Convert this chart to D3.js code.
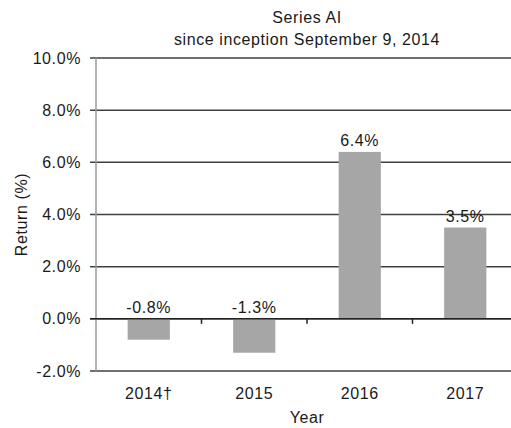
<!DOCTYPE html>
<html>
<head>
<meta charset="utf-8">
<title>Series AI returns</title>
<script src="https://d3js.org/d3.v7.min.js"></script>
<style>
  body { margin: 0; background: #fff; }
  text { font-family: Arial, "Liberation Sans", sans-serif; fill: #1a1a1a; font-size: 16px; letter-spacing: 0.6px; }
</style>
</head>
<body>
<svg id="chart" width="511" height="428"></svg>
<script>
const years = ['2014\u2020', '2015', '2016', '2017'];
const returns = [-0.8, -1.3, 6.4, 3.5];
const yTicks = [-2, 0, 2, 4, 6, 8, 10];

const plotL = 96, plotR = 518, plotT = 58, plotB = 371;

const svg = d3.select('#chart');

const x = d3.scaleBand().domain(years).range([plotL, plotR]).paddingInner(0.6).paddingOuter(0.3);
const xb = d3.scaleBand().domain(years).range([plotL, plotR]);  // full bands for tick marks
const y = d3.scaleLinear().domain([-2, 10]).range([plotB, plotT]);

// gridlines
svg.selectAll('line.grid').data(yTicks).enter().append('line')
  .attr('class', 'grid')
  .attr('x1', plotL - 6).attr('x2', 511)
  .attr('y1', d => y(d)).attr('y2', d => y(d))
  .attr('stroke', '#404040').attr('stroke-width', 1.5);

// left axis line
svg.append('line')
  .attr('x1', plotL).attr('x2', plotL)
  .attr('y1', plotT).attr('y2', plotB)
  .attr('stroke', '#9a9a9a').attr('stroke-width', 1.5);

// y tick labels
svg.selectAll('text.ytick').data(yTicks).enter().append('text')
  .attr('class', 'ytick')
  .attr('x', plotL - 15).attr('y', d => y(d))
  .attr('dy', '0.35em')
  .attr('text-anchor', 'end')
  .text(d => d.toFixed(1) + '%');

// bars
svg.selectAll('rect.bar').data(returns).enter().append('rect')
  .attr('class', 'bar')
  .attr('x', (d, i) => x(years[i]))
  .attr('width', x.bandwidth())
  .attr('y', d => y(Math.max(0, d)))
  .attr('height', d => Math.abs(y(d) - y(0)))
  .attr('fill', '#a6a6a6');

// redraw zero line on top
svg.append('line')
  .attr('x1', plotL - 6).attr('x2', 511)
  .attr('y1', y(0)).attr('y2', y(0))
  .attr('stroke', '#222').attr('stroke-width', 1.5);

// category tick marks on zero line
svg.selectAll('line.xtick').data(years.slice(1)).enter().append('line')
  .attr('class', 'xtick')
  .attr('x1', d => xb(d)).attr('x2', d => xb(d))
  .attr('y1', y(0)).attr('y2', y(0) + 5)
  .attr('stroke', '#222').attr('stroke-width', 1.5);

// value labels
svg.selectAll('text.val').data(returns).enter().append('text')
  .attr('class', 'val')
  .attr('x', (d, i) => x(years[i]) + x.bandwidth() / 2)
  .attr('y', d => y(Math.max(0, d)) - 6)
  .attr('text-anchor', 'middle')
  .text(d => d.toFixed(1) + '%');

// x category labels
svg.selectAll('text.xlab').data(years).enter().append('text')
  .attr('class', 'xlab')
  .attr('x', d => x(d) + x.bandwidth() / 2)
  .attr('y', plotB + 28)
  .attr('text-anchor', 'middle')
  .text(d => d);

// axis titles
svg.append('text')
  .attr('x', (plotL + plotR) / 2).attr('y', 423)
  .attr('text-anchor', 'middle')
  .text('Year');

svg.append('text')
  .attr('transform', 'translate(27,' + (plotT + plotB) / 2 + ') rotate(-90)')
  .attr('text-anchor', 'middle')
  .text('Return (%)');

// chart title
const title = svg.append('text')
  .attr('x', (plotL + plotR) / 2).attr('y', 23)
  .attr('text-anchor', 'middle');
title.append('tspan').attr('x', (plotL + plotR) / 2).text('Series AI');
title.append('tspan').attr('x', (plotL + plotR) / 2).attr('dy', 22).text('since inception September 9, 2014');
</script>
</body>
</html>
